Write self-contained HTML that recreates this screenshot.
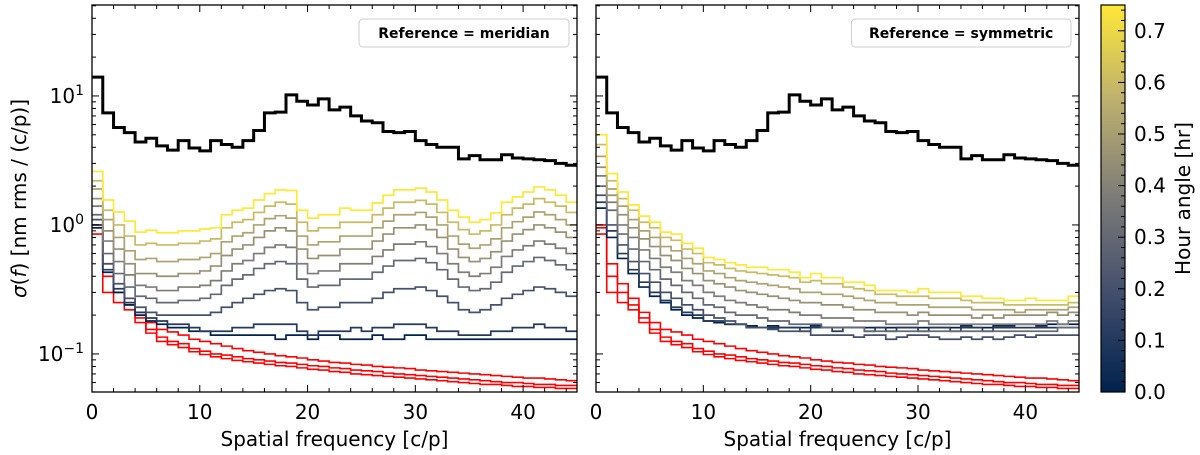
<!DOCTYPE html>
<html><head><meta charset="utf-8"><style>
body{margin:0;background:#fff;}
svg{display:block;font-family:"DejaVu Sans","Liberation Sans",sans-serif;}
</style></head><body>
<svg id="fig" width="1200" height="455" viewBox="0 0 1200 455"></svg>
<script>
const binEdges0 = 0, nBins = 45;
const blackSeries = [14,7.4,5.7,5.2,4.4,4.7,4.1,3.8,4.5,3.95,3.75,4.5,4.2,4.0,4.5,5.4,7.4,7.5,10.2,9.1,8.5,9.5,7.8,8.2,7.0,6.4,6.2,5.3,5.2,5.3,4.5,4.2,4.0,4.0,3.25,3.45,3.2,3.2,3.5,3.3,3.25,3.2,3.15,3.0,2.9];
const redA = [0.95,0.4,0.3,0.24,0.19,0.155,0.135,0.125,0.12,0.11,0.105,0.1,0.098,0.095,0.092,0.09,0.088,0.086,0.085,0.083,0.081,0.08,0.078,0.077,0.075,0.074,0.073,0.071,0.07,0.069,0.068,0.067,0.066,0.065,0.064,0.063,0.062,0.061,0.06,0.06,0.059,0.058,0.058,0.057,0.057];
const redB = [0.85,0.3,0.25,0.22,0.175,0.145,0.125,0.118,0.112,0.104,0.099,0.095,0.092,0.089,0.087,0.085,0.083,0.081,0.08,0.078,0.076,0.075,0.073,0.072,0.07,0.069,0.068,0.067,0.066,0.065,0.064,0.063,0.062,0.061,0.06,0.059,0.058,0.058,0.057,0.056,0.056,0.055,0.055,0.054,0.054];
const redC = [1.0,0.5,0.35,0.27,0.21,0.175,0.155,0.148,0.14,0.13,0.125,0.12,0.115,0.11,0.106,0.103,0.1,0.097,0.095,0.093,0.09,0.088,0.086,0.085,0.083,0.082,0.08,0.079,0.078,0.077,0.075,0.074,0.073,0.072,0.071,0.07,0.069,0.068,0.067,0.066,0.065,0.065,0.064,0.063,0.062];
const hourAngles = [0.75,0.6,0.52,0.45,0.38,0.3,0.2,0.1,0.0];
const meridian75 = [2.6,1.56,1.26,1.07,0.88,0.91,0.87,0.87,0.9,0.9,0.93,0.95,1.2,1.3,1.35,1.56,1.75,1.87,1.85,1.3,1.13,1.2,1.2,1.35,1.3,1.3,1.48,1.7,1.87,1.87,1.93,1.8,1.56,1.3,1.15,1.05,1.1,1.24,1.5,1.65,1.8,1.97,1.87,1.7,1.5];
const meridian60 = [2.2,1.3,1.0,0.82,0.7,0.72,0.7,0.7,0.72,0.72,0.75,0.78,0.95,1.05,1.1,1.25,1.4,1.5,1.45,1.05,0.9,0.95,0.95,1.05,1.05,1.05,1.2,1.35,1.5,1.5,1.55,1.45,1.25,1.05,0.92,0.85,0.9,1.0,1.2,1.35,1.45,1.6,1.5,1.4,1.25];
const meridian52 = [1.9,1.1,0.8,0.63,0.54,0.55,0.52,0.52,0.54,0.54,0.56,0.6,0.74,0.82,0.87,1.0,1.12,1.18,1.13,0.82,0.7,0.74,0.74,0.82,0.82,0.82,0.95,1.07,1.2,1.2,1.25,1.15,1.0,0.82,0.71,0.66,0.7,0.78,0.95,1.06,1.15,1.26,1.2,1.1,1.0];
const meridian45 = [1.6,0.9,0.65,0.5,0.42,0.42,0.4,0.4,0.42,0.42,0.44,0.48,0.58,0.65,0.7,0.8,0.9,0.95,0.9,0.65,0.55,0.58,0.58,0.65,0.65,0.65,0.75,0.85,0.95,0.95,1.0,0.92,0.8,0.65,0.56,0.52,0.55,0.62,0.75,0.85,0.92,1.0,0.95,0.88,0.8];
const meridian38 = [1.4,0.75,0.52,0.41,0.34,0.33,0.31,0.31,0.33,0.33,0.34,0.37,0.44,0.5,0.53,0.6,0.67,0.7,0.67,0.5,0.42,0.44,0.44,0.5,0.5,0.5,0.57,0.64,0.71,0.71,0.74,0.68,0.6,0.5,0.43,0.4,0.42,0.47,0.57,0.64,0.69,0.75,0.71,0.66,0.6];
const meridian30 = [1.2,0.6,0.42,0.33,0.28,0.27,0.25,0.25,0.26,0.26,0.27,0.29,0.34,0.38,0.41,0.46,0.5,0.52,0.5,0.38,0.33,0.34,0.34,0.38,0.38,0.38,0.43,0.48,0.53,0.53,0.55,0.51,0.45,0.38,0.33,0.31,0.32,0.36,0.43,0.48,0.52,0.56,0.53,0.49,0.45];
const meridian20 = [1.1,0.5,0.35,0.27,0.23,0.21,0.2,0.2,0.2,0.2,0.2,0.21,0.23,0.25,0.27,0.29,0.31,0.32,0.31,0.25,0.22,0.23,0.23,0.25,0.25,0.25,0.27,0.3,0.32,0.32,0.33,0.31,0.28,0.25,0.22,0.21,0.22,0.24,0.27,0.29,0.31,0.33,0.32,0.3,0.28];
const meridian10 = [1.0,0.45,0.32,0.25,0.21,0.19,0.18,0.17,0.17,0.16,0.15,0.15,0.15,0.16,0.16,0.17,0.17,0.17,0.17,0.15,0.14,0.15,0.15,0.15,0.16,0.15,0.16,0.16,0.17,0.17,0.17,0.16,0.15,0.15,0.14,0.14,0.14,0.15,0.15,0.16,0.16,0.17,0.16,0.16,0.15];
const meridian00 = [0.95,0.43,0.3,0.24,0.2,0.18,0.17,0.16,0.16,0.15,0.15,0.14,0.14,0.14,0.14,0.14,0.14,0.13,0.14,0.14,0.13,0.14,0.14,0.13,0.13,0.13,0.14,0.13,0.13,0.14,0.14,0.13,0.13,0.13,0.13,0.13,0.13,0.13,0.13,0.13,0.13,0.13,0.13,0.13,0.13];
const symmetric75 = [5.0,2.5,1.8,1.43,1.17,1.05,0.88,0.85,0.72,0.66,0.56,0.54,0.51,0.49,0.47,0.47,0.45,0.45,0.43,0.39,0.42,0.39,0.39,0.36,0.36,0.34,0.31,0.31,0.31,0.3,0.32,0.3,0.3,0.3,0.28,0.28,0.27,0.27,0.26,0.26,0.27,0.26,0.26,0.26,0.28];
const symmetric60 = [4.2,2.2,1.6,1.3,1.05,0.95,0.8,0.76,0.65,0.6,0.51,0.49,0.46,0.44,0.43,0.42,0.41,0.4,0.39,0.36,0.37,0.35,0.35,0.33,0.32,0.31,0.29,0.29,0.28,0.28,0.28,0.27,0.27,0.27,0.26,0.25,0.25,0.25,0.24,0.24,0.24,0.24,0.24,0.24,0.25];
const symmetric52 = [3.4,1.9,1.4,1.1,0.9,0.8,0.68,0.63,0.55,0.5,0.44,0.42,0.39,0.37,0.36,0.35,0.34,0.33,0.32,0.3,0.3,0.29,0.29,0.28,0.27,0.26,0.25,0.25,0.24,0.24,0.24,0.23,0.23,0.23,0.23,0.22,0.22,0.22,0.22,0.21,0.22,0.22,0.22,0.22,0.23];
const symmetric45 = [2.8,1.7,1.2,0.95,0.78,0.68,0.58,0.53,0.46,0.42,0.37,0.35,0.33,0.31,0.3,0.29,0.28,0.27,0.26,0.25,0.25,0.24,0.24,0.23,0.22,0.22,0.21,0.21,0.21,0.2,0.21,0.2,0.2,0.2,0.2,0.19,0.2,0.19,0.2,0.2,0.2,0.2,0.21,0.2,0.21];
const symmetric38 = [2.4,1.5,1.0,0.8,0.64,0.55,0.47,0.43,0.37,0.34,0.3,0.28,0.26,0.25,0.24,0.23,0.22,0.22,0.21,0.2,0.2,0.19,0.19,0.19,0.18,0.18,0.18,0.17,0.17,0.17,0.18,0.17,0.17,0.17,0.17,0.17,0.17,0.17,0.17,0.17,0.17,0.17,0.18,0.17,0.18];
const symmetric30 = [2.0,1.3,0.85,0.65,0.52,0.45,0.38,0.34,0.3,0.27,0.24,0.23,0.21,0.2,0.2,0.19,0.18,0.18,0.17,0.17,0.17,0.16,0.16,0.16,0.16,0.15,0.15,0.15,0.15,0.15,0.15,0.15,0.15,0.15,0.15,0.15,0.15,0.15,0.15,0.15,0.15,0.15,0.15,0.16,0.16];
const symmetric20 = [1.7,1.0,0.7,0.52,0.42,0.36,0.3,0.27,0.24,0.22,0.2,0.19,0.18,0.17,0.16,0.16,0.155,0.15,0.15,0.15,0.14,0.14,0.14,0.14,0.135,0.14,0.14,0.13,0.135,0.14,0.14,0.135,0.13,0.13,0.135,0.13,0.135,0.13,0.135,0.14,0.135,0.14,0.14,0.14,0.14];
const symmetric10 = [1.5,0.9,0.6,0.45,0.36,0.3,0.26,0.23,0.21,0.2,0.18,0.18,0.17,0.17,0.16,0.16,0.16,0.16,0.16,0.15,0.16,0.16,0.15,0.16,0.16,0.15,0.16,0.15,0.16,0.16,0.15,0.16,0.16,0.15,0.16,0.16,0.15,0.16,0.16,0.16,0.16,0.16,0.16,0.16,0.16];
const symmetric00 = [1.35,0.8,0.55,0.42,0.33,0.28,0.25,0.22,0.2,0.19,0.18,0.175,0.17,0.17,0.165,0.16,0.165,0.16,0.16,0.16,0.165,0.16,0.16,0.16,0.16,0.16,0.16,0.16,0.16,0.16,0.16,0.16,0.16,0.16,0.165,0.16,0.16,0.165,0.165,0.17,0.17,0.165,0.17,0.17,0.17];
const xTicks = [0,10,20,30,40];
const yTickExps = [-1,0,1];
const cbTicks = [0.0,0.1,0.2,0.3,0.4,0.5,0.6,0.7];

const NS='http://www.w3.org/2000/svg';
const svg=document.getElementById('fig');
function mk(tag,attrs,parent){const e=document.createElementNS(NS,tag);for(const k in attrs)e.setAttribute(k,attrs[k]);(parent||svg).appendChild(e);return e;}
const Y0=5,Y1=392,XMAX=45,YMIN=Math.log10(0.0507),YMAX=Math.log10(50.7);
function yScale(v){return Y1-(Math.log10(v)-YMIN)/(YMAX-YMIN)*(Y1-Y0);}
const stops=[[0,[0,34,78]],[0.25,[65,77,107]],[0.5,[124,123,120]],[0.75,[188,175,111]],[1,[254,232,56]]];
function cividis(t){t=Math.max(0,Math.min(1,t));for(let i=1;i<stops.length;i++){if(t<=stops[i][0]){const a=stops[i-1],b=stops[i];const f=(t-a[0])/(b[0]-a[0]);const c=a[1].map((v,j)=>Math.round(v+(b[1][j]-v)*f));return `rgb(${c.join(',')})`;}}return 'rgb(254,232,56)';}

function panel(x0,x1,series,legendText,showY,name){
  const g=mk('g',{});
  
  
  const xs=v=>x0+(v-binEdges0)/XMAX*(x1-x0);
  const clip=mk('clipPath',{id:'clip'+name},g);mk('rect',{x:x0,y:Y0,width:x1-x0,height:Y1-Y0},clip);
  const lines=mk('g',{'clip-path':`url(#clip${name})`},g);
  function step(arr,color,w,nm){
    let d='';arr.forEach((v,i)=>{const y=yScale(v);d+=(i===0?`M${xs(i)},${y}`:`L${xs(i)},${y}`)+`L${xs(i+1)},${y}`;});
    const p=mk('path',{d,fill:'none',stroke:color,'stroke-width':w,'stroke-linejoin':'miter'},lines);
    
    
  }
  [redA,redB,redC].forEach((a,i)=>step(a,'#ff0000',1.6,'red-series-'+i));
  series.slice().reverse().forEach((a,j)=>{const i=series.length-1-j;step(a,cividis(hourAngles[i]/0.75),1.7,'hour-angle-'+hourAngles[i]);});
  step(blackSeries,'#000',3,'black-series');
  const fr=mk('rect',{x:x0,y:Y0,width:x1-x0,height:Y1-Y0,fill:'none',stroke:'#000','stroke-width':1.3},g);
  
  for(let v=0;v<=XMAX;v+=2){const X=xs(v);const L=(v%10===0)?7:4;mk('line',{x1:X,x2:X,y1:Y1,y2:Y1-L,stroke:'#000','stroke-width':1},g);mk('line',{x1:X,x2:X,y1:Y0,y2:Y0+L,stroke:'#000','stroke-width':1},g);}
  xTicks.forEach(v=>{const t=mk('text',{x:xs(v),y:419,'font-size':20,'text-anchor':'middle'},g);t.textContent=v;});
  const xl=mk('text',{x:(x0+x1)/2,y:446,'font-size':20,'text-anchor':'middle'},g);xl.textContent='Spatial frequency [c/p]';
  
  for(let e=-2;e<=1;e++){for(let m=1;m<10;m++){const v=m*Math.pow(10,e);if(v<0.0507||v>50.7)continue;const Y=yScale(v);const L=m===1?7:4;mk('line',{x1:x0,x2:x0+L,y1:Y,y2:Y,stroke:'#000','stroke-width':1},g);mk('line',{x1:x1,x2:x1-L,y1:Y,y2:Y,stroke:'#000','stroke-width':1},g);}}
  if(showY){yTickExps.forEach(e=>{const t=mk('text',{x:x0-8,y:yScale(Math.pow(10,e))+7,'font-size':20,'text-anchor':'end'},g);t.innerHTML=`10<tspan dy="-8" font-size="14">${e===-1?'\u22121':e}</tspan>`;});
    const yl=mk('text',{x:0,y:0,'font-size':20,'text-anchor':'middle',transform:`translate(26,${(Y0+Y1)/2}) rotate(-90)`},g);
    yl.innerHTML='<tspan font-style="italic">σ</tspan>(<tspan font-style="italic">f</tspan>) [nm rms / (c/p)]';
    }
  const lw=legendText.length*9.6+18;
  const lg=mk('g',{},g);
  mk('rect',{x:x1-8-lw,y:19,width:lw,height:28,rx:4,fill:'#fff',stroke:'#ccc','stroke-width':1},lg);
  const lt=mk('text',{x:x1-8-lw/2,y:38,'font-size':14,'font-weight':'bold','text-anchor':'middle'},lg);lt.textContent=legendText;
}
panel(92,577,[meridian75,meridian60,meridian52,meridian45,meridian38,meridian30,meridian20,meridian10,meridian00],'Reference = meridian',true,'panel-meridian');
panel(596,1079,[symmetric75,symmetric60,symmetric52,symmetric45,symmetric38,symmetric30,symmetric20,symmetric10,symmetric00],'Reference = symmetric',false,'panel-symmetric');
const cb=mk('g',{});
const defs=mk('defs',{},cb);const gr=mk('linearGradient',{id:'cvd',x1:0,y1:1,x2:0,y2:0},defs);
stops.forEach(s=>mk('stop',{offset:s[0],'stop-color':`rgb(${s[1].join(',')})`},gr));
const CX0=1101,CX1=1125;const cy=v=>Y1-v/0.75*(Y1-Y0);
mk('rect',{x:CX0,y:Y0,width:CX1-CX0,height:Y1-Y0,fill:'url(#cvd)',stroke:'#000','stroke-width':1.2},cb);
for(let i=0;i<=37;i++){const v=i*0.02;const Y=cy(v);const L=(i%5===0)?7:4;mk('line',{x1:CX1,x2:CX1-L,y1:Y,y2:Y,stroke:'#000','stroke-width':1},cb);}
cbTicks.forEach(v=>{const t=mk('text',{x:1134,y:cy(v)+7,'font-size':20},cb);t.textContent=v.toFixed(1);});
const cl=mk('text',{x:0,y:0,'font-size':20,'text-anchor':'middle',transform:`translate(1190,${(Y0+Y1)/2}) rotate(-90)`},cb);cl.textContent='Hour angle [hr]';

</script>
</body></html>
